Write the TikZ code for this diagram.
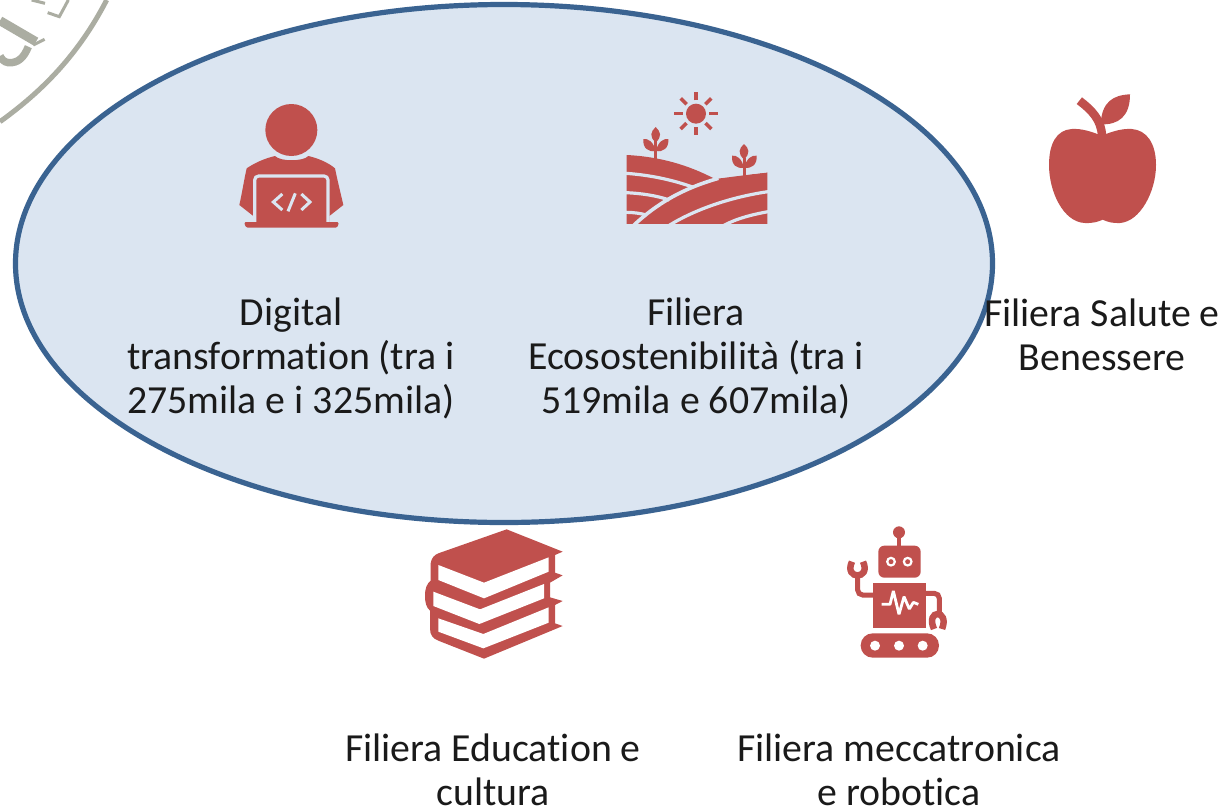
\documentclass[tikz,border=0pt]{standalone}
\usepackage{fontspec}
\usetikzlibrary{shapes.geometric}
\setmainfont[Ligatures=CommonOff]{Carlito}
\definecolor{bgblue}{HTML}{DBE5F1}
\definecolor{edgeblue}{HTML}{3A6391}
\definecolor{iconred}{HTML}{C0504D}
\definecolor{sealgrey}{HTML}{ABADA2}
\definecolor{inktext}{HTML}{1A1A1A}
\tikzset{
  label text/.style={font=\fontsize{39.8}{44}\selectfont,align=center,text=inktext,inner sep=0pt},
  icon/.style={fill=iconred,draw=none},
  cut/.style={draw=bgblue,line width=#1,line cap=butt},
  redline/.style={draw=iconred,line width=#1},
  sealstroke/.style={draw=sealgrey,line width=#1}
}
\begin{document}
\begin{tikzpicture}[x=1pt,y=-1pt]
\useasboundingbox (0,0) rectangle (1225,809);
\fill[white] (0,0) rectangle (1225,809);
% seal fragment
\begin{scope}[scale=1/3]
\draw[sealstroke=5pt] (0,365) .. controls (125,275) and (235,165) .. (320,0);
\draw[sealstroke=9pt] (0,62) -- (108,125);
\draw[sealstroke=3pt] (100,135) -- (134,118);
\draw[sealstroke=7.5pt] (85,140) .. controls (72,172) and (55,190) .. (25,188) .. controls (12,186) and (5,178) .. (0,168);
\draw[sealstroke=3pt] (143,38) -- (178,50) -- (205,0);
\draw[sealstroke=3pt] (95,0) -- (135,10);
\end{scope}
% ellipse
\node[draw=edgeblue,fill=bgblue,line width=5.2pt,ellipse,minimum width=977pt,minimum height=518pt,inner sep=0pt] (bubble) at (504,263.5) {};
% person
\begin{scope}[shift={(220,90)},scale=1/3]
\fill[icon] (214,120) circle[radius=78];
\fill[icon] (80,235) .. controls (105,218) and (135,205) .. (165,198)
  .. controls (180,215) and (250,215) .. (265,198)
  .. controls (295,205) and (325,218) .. (345,235)
  .. controls (352,270) and (362,310) .. (370,345)
  -- (328,378) -- (328,397) -- (100,397) -- (100,378) -- (58,345)
  .. controls (66,310) and (72,270) .. (80,235) -- cycle;
\draw[cut=3.2pt,fill=iconred,rounded corners=4pt] (104,397) -- (104,258) -- (324,258) -- (324,397);
\fill[icon,rounded corners=1.5pt] (72,396) -- (357,396) -- (352,413) -- (78,413) -- cycle;
\draw[cut=3pt,line join=miter] (187,312) -- (160,336) -- (187,360);
\draw[cut=3pt] (226,310) -- (204,364);
\draw[cut=3pt] (244,312) -- (270,336) -- (244,360);
\end{scope}
% fields and sun
\begin{scope}[shift={(610,85)},scale=1/3]
\fill[icon] (258,86) circle[radius=30];
\foreach \a in {0,45,...,315}
  \draw[redline=3.6pt] ({258+cos(\a)*40},{86+sin(\a)*40}) -- ({258+cos(\a)*65},{86+sin(\a)*65});
\fill[icon] (50,210) .. controls (150,215) and (235,240) .. (315,282) -- (472,262) -- (472,418) -- (50,418) -- cycle;
\fill[bgblue] (315,282) .. controls (380,268) and (430,268) .. (472,262) -- (480,240) -- (330,270) -- cycle;
\draw[cut=3.6pt] (325,280) .. controls (220,310) and (140,355) .. (68,424);
\draw[cut=3.2pt] (48,265) .. controls (120,270) and (190,285) .. (250,307);
\draw[cut=3.2pt] (48,323) .. controls (95,325) and (140,332) .. (178,345);
\draw[cut=3.2pt] (48,382) .. controls (70,382) and (90,385) .. (110,390);
\draw[cut=3.2pt] (176,422) .. controls (260,370) and (370,335) .. (474,320);
\draw[cut=3.2pt] (340,422) .. controls (380,400) and (430,388) .. (474,380);
\fill[bgblue] (40,418) rectangle (480,440);
% plant left
\draw[redline=3pt] (137,165) -- (137,228);
\fill[icon] (137,126) .. controls (122,140) and (117,155) .. (137,172) .. controls (157,155) and (152,140) .. (137,126) -- cycle;
\fill[icon] (100,162) .. controls (115,160) and (130,170) .. (137,198) .. controls (115,202) and (98,190) .. (100,162) -- cycle;
\fill[icon] (175,162) .. controls (160,160) and (145,170) .. (137,198) .. controls (159,202) and (177,190) .. (175,162) -- cycle;
% plant right
\draw[redline=3pt] (402,220) -- (402,276);
\fill[icon] (402,177) .. controls (387,190) and (382,205) .. (402,223) .. controls (422,205) and (417,190) .. (402,177) -- cycle;
\fill[icon] (366,212) .. controls (380,210) and (395,220) .. (402,248) .. controls (380,252) and (364,240) .. (366,212) -- cycle;
\fill[icon] (440,212) .. controls (425,210) and (410,220) .. (402,248) .. controls (424,252) and (442,240) .. (440,212) -- cycle;
\end{scope}
% apple
\begin{scope}[shift={(1030,85)},scale=1/3]
\fill[icon] (215,152) .. controls (185,140) and (155,130) .. (125,132)
  .. controls (80,135) and (57,175) .. (57,240)
  .. controls (57,320) and (100,412) .. (165,414)
  .. controls (190,415) and (205,410) .. (218,404)
  .. controls (235,412) and (250,415) .. (270,414)
  .. controls (330,410) and (378,320) .. (378,240)
  .. controls (378,175) and (350,135) .. (305,132)
  .. controls (275,130) and (245,140) .. (215,152) -- cycle;
\draw[redline=8.5pt] (148,47) .. controls (185,75) and (215,105) .. (216,155);
\fill[icon] (300,28) .. controls (250,30) and (215,50) .. (212,118) .. controls (265,120) and (300,95) .. (300,28) -- cycle;
\end{scope}
% books
\begin{scope}[shift={(410,520)},scale=1/3]
\fill[icon,line join=round] (290,28) -- (458,95) -- (435,105) -- (435,158) -- (458,166) -- (420,188) -- (420,232) -- (458,243) -- (435,255) -- (435,310) -- (458,318) -- (222,416) -- (85,362)
  .. controls (68,355) and (60,345) .. (60,325) -- (60,272)
  .. controls (48,262) and (45,245) .. (45,228) .. controls (45,205) and (50,192) .. (62,182)
  -- (62,130) .. controls (64,115) and (72,105) .. (85,100) -- cycle;
\fill[white] (85,135) -- (222,188) -- (416,112) -- (416,155) -- (222,235) -- (85,180) -- cycle;
\fill[white] (70,215) -- (210,268) -- (402,192) -- (402,235) -- (208,312) -- (70,258) -- cycle;
\fill[white] (85,295) -- (220,342) -- (416,262) -- (416,308) -- (220,385) -- (85,335) -- cycle;
\end{scope}
% robot
\begin{scope}[shift={(830,515)},scale=1/3]
\fill[icon] (207,52) circle[radius=18];
\draw[redline=4pt] (207,60) -- (207,95);
\fill[icon,rounded corners=6pt] (145,92) rectangle (272,188);
\fill[white] (183,140) circle[radius=15];
\fill[icon] (183,140) circle[radius=7.5];
\fill[white] (233,140) circle[radius=15];
\fill[icon] (233,140) circle[radius=7.5];
\fill[icon] (130,204) rectangle (287,340);
\draw[draw=white,line width=2.8pt,line join=bevel] (155,268) -- (180,268) -- (190,228) -- (207,298) -- (222,245) -- (238,282) -- (250,262) -- (265,268);
\draw[redline=5pt,rounded corners=5pt] (132,240) -- (83,240) -- (83,180);
\draw[redline=6.5pt] (66,140) .. controls (40,195) and (125,195) .. (99,140);
\draw[redline=5pt,rounded corners=5pt] (285,235) -- (328,235) -- (328,298);
\draw[redline=6.5pt] (312,342) .. controls (285,282) and (360,282) .. (336,342);
\fill[icon,rounded corners=12pt] (92,355) rectangle (327,428);
\foreach \p in {135,207,278} \fill[white] (\p,392) circle[radius=15];
\end{scope}
% labels
\node[label text] (digital) at (291,358) {Digital\\transformation (tra i\\275mila e i 325mila)};
\node[label text] (eco) at (696,358) {Filiera\\Ecosostenibilit\`a (tra i\\519mila e 607mila)};
\node[label text] (salute) at (1102,335) {Filiera Salute e\\Benessere};
\node[label text] (education) at (493,770) {Filiera Education e\\cultura};
\node[label text] (mecca) at (899,770) {Filiera meccatronica\\e robotica};
\end{tikzpicture}
\end{document}
